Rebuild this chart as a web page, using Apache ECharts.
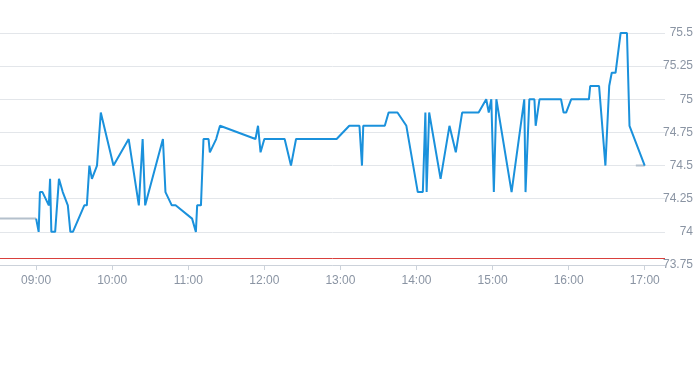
<!DOCTYPE html>
<html>
<head>
<meta charset="utf-8">
<script src="https://cdn.jsdelivr.net/npm/echarts@6/dist/echarts.min.js"></script>
<style>
html,body{margin:0;padding:0;background:#fff;}
#chart{width:693px;height:365px;}
</style>
</head>
<body>
<div id="chart"></div>
<script>
// Intraday trades (time, price)
var tradeTimes = ['09:00','09:02','09:03','09:05','09:10','09:11','09:12','09:15','09:18','09:21','09:22','09:25','09:27','09:29',
  '09:38','09:40','09:42','09:44','09:48','09:51','10:01','10:13','10:21','10:24','10:26','10:40','10:42','10:47','10:50',
  '11:03','11:06','11:07','11:10','11:12','11:16','11:17','11:22','11:25','11:53','11:55','11:57','12:00','12:16','12:21',
  '12:25','12:57','13:07','13:15','13:17','13:18','13:35','13:38','13:45','13:52','14:01','14:05','14:07','14:08','14:10',
  '14:19','14:26','14:31','14:36','14:49','14:55','14:57','14:59','15:01','15:03','15:15','15:25','15:26','15:29','15:33',
  '15:34','15:37','15:54','15:56','15:58','16:02','16:16','16:17','16:24','16:29','16:32','16:34','16:37','16:41','16:46',
  '16:48','17:00'];
var tradePrices = [74.1,74.0,74.3,74.3,74.2,74.4,74.0,74.0,74.4,74.3,74.3,74.2,74.0,74.0,
  74.2,74.2,74.5,74.4,74.5,74.9,74.5,74.7,74.2,74.7,74.2,74.7,74.3,74.2,74.2,
  74.1,74.0,74.2,74.2,74.7,74.7,74.6,74.7,74.8,74.7,74.8,74.6,74.7,74.7,74.5,
  74.7,74.7,74.8,74.8,74.5,74.8,74.8,74.9,74.9,74.8,74.3,74.3,74.9,74.3,74.9,
  74.4,74.8,74.6,74.9,74.9,75.0,74.9,75.0,74.3,75.0,74.3,75.0,74.3,75.0,75.0,
  74.8,75.0,75.0,74.9,74.9,75.0,75.0,75.1,75.1,74.5,75.1,75.2,75.2,75.5,75.5,
  74.8,74.5];
// Grey reference segments (pre-open and closing auction)
var greyTimes = ['08:30','09:00',null,'16:53','17:00'];
var greyPrices = [74.1,74.1,null,74.5,74.5];
var refLine = 73.8;
var yTicks = {min:73.75, max:75.5, step:0.25};
var xRange = {min:'08:31:30', max:'17:16:00'};

function ts(hm){
  var p = hm.split(':');
  return new Date(2024,0,2,+p[0],+p[1],+(p[2]||0)).getTime();
}
var blueData = tradeTimes.map(function(t,i){return [ts(t), tradePrices[i]];});
var greyData = greyTimes.map(function(t,i){return t===null ? [null,null] : [ts(t), greyPrices[i]];});

var chart = echarts.init(document.getElementById('chart'), null, {renderer:'canvas'});
chart.setOption({
  animation:false,
  grid:{left:0,right:28,top:33,bottom:100,containLabel:false,outerBoundsMode:'none'},
  xAxis:{
    type:'time',
    min:ts(xRange.min), max:ts(xRange.max),
    minInterval:3600000, maxInterval:3600000,
    axisLine:{show:true,lineStyle:{color:'#ccd2da',width:1}},
    axisTick:{show:true,length:5,lineStyle:{color:'#ccd2da'}},
    splitLine:{show:false},
    axisLabel:{color:'#8a94a3',fontSize:12,margin:10,showMinLabel:false,showMaxLabel:false,
      formatter:function(v){var d=new Date(v);return ('0'+d.getHours()).slice(-2)+':'+('0'+d.getMinutes()).slice(-2);}}
  },
  yAxis:{
    type:'value',position:'right',
    min:yTicks.min,max:yTicks.max,interval:yTicks.step,
    axisLine:{show:false},axisTick:{show:false},
    splitLine:{show:true,lineStyle:{color:'#e3e6ea',width:1}},
    axisLabel:{color:'#8a94a3',fontSize:12,align:'right',margin:28}
  },
  series:[
    {type:'line',data:greyData,showSymbol:false,symbol:'none',connectNulls:false,
     lineStyle:{color:'#b4c0cc',width:2},z:1,silent:true},
    {type:'line',data:blueData,showSymbol:false,symbol:'none',
     lineStyle:{color:'#1a91dc',width:2},z:3,
     markLine:{silent:true,symbol:['none','none'],label:{show:false},
       lineStyle:{color:'#d9403d',width:1,type:'solid'},
       data:[{yAxis:refLine}]}}
  ]
});
</script>
</body>
</html>
